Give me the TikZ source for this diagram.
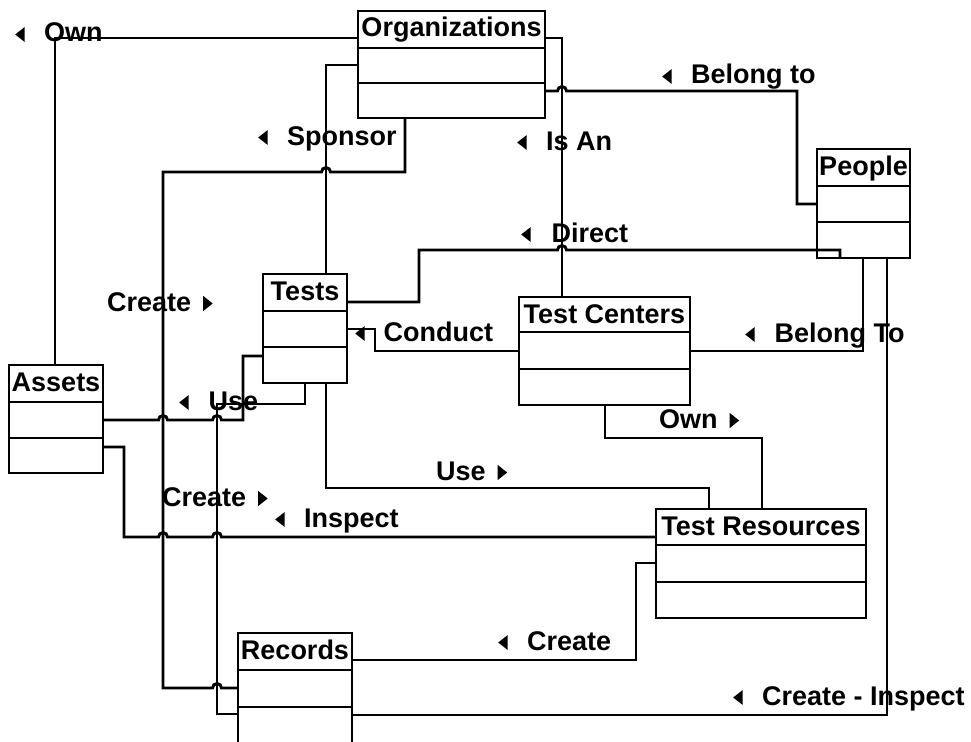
\documentclass[tikz,border=0pt]{standalone}
\usepackage{fontspec}
\setmainfont{Liberation Sans}

% direction markers placed in relation labels
\newcommand\ltri{\tikz[baseline=0pt]\fill (0pt,7.5pt) -- (9.5pt,15pt) -- (9.5pt,0pt) -- cycle;}
\newcommand\rtri{\tikz[baseline=0pt]\fill (0pt,0pt) -- (0pt,15pt) -- (9.5pt,7.5pt) -- cycle;}

% entity box: name, x1, y1, x2, y2, first divider, second divider, title, title baseline
\newcommand\umlclass[9]{%
  \node[box, minimum width={(#4-#2)*1pt}, minimum height={(#5-#3)*1pt}] (#1) at ({(#2+#4)/2},{(#3+#5)/2}) {};
  \draw (#1.west |- 0,#6) -- (#1.east |- 0,#6);
  \draw (#1.west |- 0,#7) -- (#1.east |- 0,#7);
  \node[title] (#1-title) at (#1.north |- 0,#9) {#8};
}

\begin{document}
\begin{tikzpicture}[x=1pt,y=-1pt,line width=2.9pt,
  box/.style={draw, rectangle, inner sep=0pt, outer sep=0pt},
  title/.style={font=\fontsize{27}{30}\selectfont\bfseries, inner sep=0pt, anchor=base},
  rel/.style={font=\fontsize{27}{30}\selectfont\bfseries, inner sep=0pt, anchor=base west},
  link/.style={draw, line width=2.9pt}]

\fill[white] (0,0) rectangle (971,741);
\useasboundingbox (0,0) rectangle (971,741);
\clip (0,0) rectangle (971,741);

% entities
\umlclass{org}{358}{11}{545}{118}{48}{83}{Organizations}{37}
\umlclass{people}{817}{149}{910}{258}{186}{222}{People}{175}
\umlclass{tests}{263}{274}{347}{383}{311}{347}{Tests}{300}
\umlclass{tc}{519}{297}{690}{405}{332}{369}{Test Centers}{323}
\umlclass{assets}{9}{365}{103}{473}{402}{438}{Assets}{391}
\umlclass{tr}{656}{509}{866}{618}{545}{582}{Test Resources}{535}
\umlclass{rec}{238}{633}{352}{743.5}{670}{707}{Records}{659}

% relations
\draw[link] (org.west |- 0,38) -- (55,38) -- (assets.north -| 55,0);
\draw[link] (org.west |- 0,65) -- (326,65) -- (tests.north -| 326,0);
\draw[link] (org.south -| 405,0) -- (405,172) -- (330.5,172)
  arc[start angle=0,end angle=180,radius=4.5pt] -- (163,172) -- (163,688) -- (212.5,688)
  arc[start angle=180,end angle=0,radius=4.5pt] -- (rec.west |- 0,688);
\draw[link] (org.east |- 0,38) -- (562,38) -- (tc.north -| 562,0);
\draw[link] (org.east |- 0,91) -- (557.5,91)
  arc[start angle=180,end angle=0,radius=4.5pt] -- (797,91) -- (797,204) -- (people.west |- 0,204);
\draw[link] (tests.east |- 0,302) -- (419,302) -- (419,250) -- (557.5,250)
  arc[start angle=180,end angle=0,radius=4.5pt] -- (840,250) -- (people.south -| 840,0);
\draw[link] (tc.west |- 0,351) -- (375,351) -- (375,329) -- (tests.east |- 0,329);
\draw[link] (tc.east |- 0,351) -- (863,351) -- (people.south -| 863,0);
\draw[link] (people.south -| 887,0) -- (887,715) -- (rec.east |- 0,715);
\draw[link] (tc.south -| 605,0) -- (605,438) -- (762,438) -- (tr.north -| 762,0);
\draw[link] (tests.south -| 326,0) -- (326,488) -- (709,488) -- (tr.north -| 709,0);
\draw[link] (tests.west |- 0,356) -- (243,356) -- (243,420) -- (221.5,420)
  arc[start angle=0,end angle=180,radius=4.5pt] -- (167.5,420)
  arc[start angle=0,end angle=180,radius=4.5pt] -- (assets.east |- 0,420);
\draw[link] (tests.south -| 305,0) -- (305,404) -- (217,404) -- (217,714) -- (rec.west |- 0,714);
\draw[link] (tr.west |- 0,537) -- (221.5,537)
  arc[start angle=0,end angle=180,radius=4.5pt] -- (167.5,537)
  arc[start angle=0,end angle=180,radius=4.5pt] -- (124,537) -- (124,447) -- (assets.east |- 0,447);
\draw[link] (tr.west |- 0,563) -- (636,563) -- (636,660) -- (rec.east |- 0,660);

% relation labels
\node[rel] (l-own) at (15,42) {\ltri\hskip19.5pt Own};
\node[rel] (l-sponsor) at (258,145) {\ltri\hskip19.5pt Sponsor};
\node[rel] (l-isan) at (517,150) {\ltri\hskip19.5pt Is An};
\node[rel] (l-belong) at (662,84) {\ltri\hskip19.5pt Belong to};
\node[rel] (l-direct) at (521,242) {\ltri\hskip21pt Direct};
\node[rel] (l-create1) at (107,311) {Create\hskip12pt\rtri};
\node[rel] (l-conduct) at (355,341) {\ltri\hskip19pt Conduct};
\node[rel] (l-belongto) at (745,342) {\ltri\hskip20pt Belong To};
\node[rel] (l-use1) at (179,410) {\ltri\hskip20pt Use};
\node[rel] (l-own2) at (659,428) {Own\hskip12pt\rtri};
\node[rel] (l-use2) at (436,480) {Use\hskip12pt\rtri};
\node[rel] (l-create2) at (162,506) {Create\hskip12pt\rtri};
\node[rel] (l-inspect) at (275,527) {\ltri\hskip19.5pt Inspect};
\node[rel] (l-create3) at (498,650) {\ltri\hskip19.5pt Create};
\node[rel] (l-createinsp) at (733,705) {\ltri\hskip19.5pt Create - Inspect};
\end{tikzpicture}
\end{document}
